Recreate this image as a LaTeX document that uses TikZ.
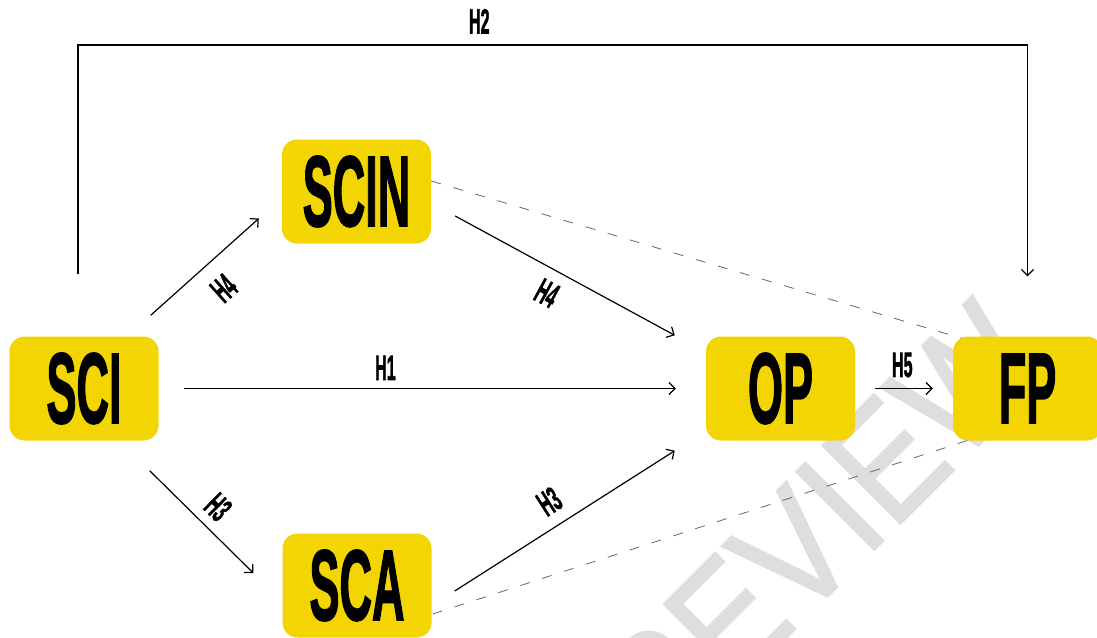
\documentclass[tikz,border=0pt]{standalone}
\usepackage{fontspec}
\setmainfont{Liberation Sans}
\newfontfamily\heavyfont[FakeBold=2]{Liberation Sans Bold}
\newfontfamily\wmfont[FakeBold=1.5]{Liberation Sans}
\usetikzlibrary{arrows.meta}
\definecolor{boxyellow}{HTML}{F3D503}
\definecolor{dashgray}{HTML}{666666}
\definecolor{wmgray}{HTML}{DEDEDE}
\newcommand{\boxfont}{\fontsize{100}{100}\selectfont\heavyfont}
\newcommand{\lblfont}{\fontsize{35}{35}\selectfont\heavyfont}
\newcommand{\cond}[1]{\scalebox{0.45}[1]{#1}}
\newcommand{\lcond}[1]{\scalebox{0.46}[1]{#1}}
\tikzset{
  boxnode/.style={fill=boxyellow, rounded corners=15pt, minimum width=149pt, minimum height=104pt,
    inner sep=0pt, font=\boxfont, text height=68.8pt, text depth=0pt},
  lbl/.style={font=\lblfont, inner sep=0pt, text height=24pt, text depth=0pt},
  arr/.style={draw=black, line width=1.2pt, -{Straight Barb[length=6pt,width=12pt,line width=1.2pt]}},
  dashline/.style={draw=dashgray, line width=0.8pt, dash pattern=on 10pt off 13pt},
}
\begin{document}
\begin{tikzpicture}[x=1pt,y=-1pt]
\useasboundingbox (0,0) rectangle (1097,637);
% watermark
\node[rotate=45, text=wmgray, font=\fontsize{160}{160}\selectfont\wmfont, inner sep=0pt] (wm) at (785,561) {\scalebox{0.87}[1]{PREVIEW}};
% nodes
\node[boxnode] (SCI) at (84,388.5) {\cond{SCI}};
\node[boxnode] (SCIN) at (356.5,191.5) {\cond{SCIN}};
\node[boxnode] (OP) at (780.5,388.5) {\cond{OP}};
\node[boxnode] (FP) at (1027.5,388.5) {\cond{FP}};
\node[boxnode] (SCA) at (357,585.5) {\cond{SCA}};
% dashed lines
\draw[dashline] ([shift={(0,-10.5)}]SCIN.east) -- ([shift={(9,2)}]FP.north west);
\draw[dashline] ([shift={(1,28.5)}]SCA.east) -- ([shift={(17,-1)}]FP.south west);
% arrows
\draw[arr] ([shift={(-8,-21)}]SCI.north east) -- node[lbl, sloped, below=16pt, pos=0.5] (l1) {\lcond{H4}} ([shift={(-23,27)}]SCIN.west);
\draw[arr] ([shift={(24,24.5)}]SCIN.east) -- node[lbl, sloped, below=11.5pt, pos=0.47] (l2) {\lcond{H4}} ([shift={(-31,-1)}]OP.north west);
\draw[arr] ([shift={(25,0)}]SCI.east) -- node[lbl, above=8pt, pos=0.41] (l3) {\lcond{H1}} ([shift={(-30,0)}]OP.west);
\draw[arr] ([shift={(-9,30)}]SCI.south east) -- node[lbl, sloped, above=9.5pt, pos=0.51] (l4) {\lcond{H3}} ([shift={(-29,-12.5)}]SCA.west);
\draw[arr] ([shift={(23,5.5)}]SCA.east) -- node[lbl, sloped, above=12pt, pos=0.49] (l5) {\lcond{H3}} ([shift={(-31,10)}]OP.south west);
\draw[arr] ([shift={(20,0)}]OP.east) -- node[lbl, above=11pt, pos=0.47] (l6) {\lcond{H5}} ([shift={(-20,0)}]FP.west);
% H2 loop
\coordinate (h2s) at ([shift={(-6,-62)}]SCI.north);
\coordinate (h2e) at ([shift={(0,-60)}]FP.north);
\coordinate (h2top) at (500,45);
\draw[arr] (h2s) -- (h2s |- h2top) -- node[lbl, above=11pt, pos=0.4226] (l7) {\lcond{H2}} (h2e |- h2top) -- (h2e);
\end{tikzpicture}
\end{document}
